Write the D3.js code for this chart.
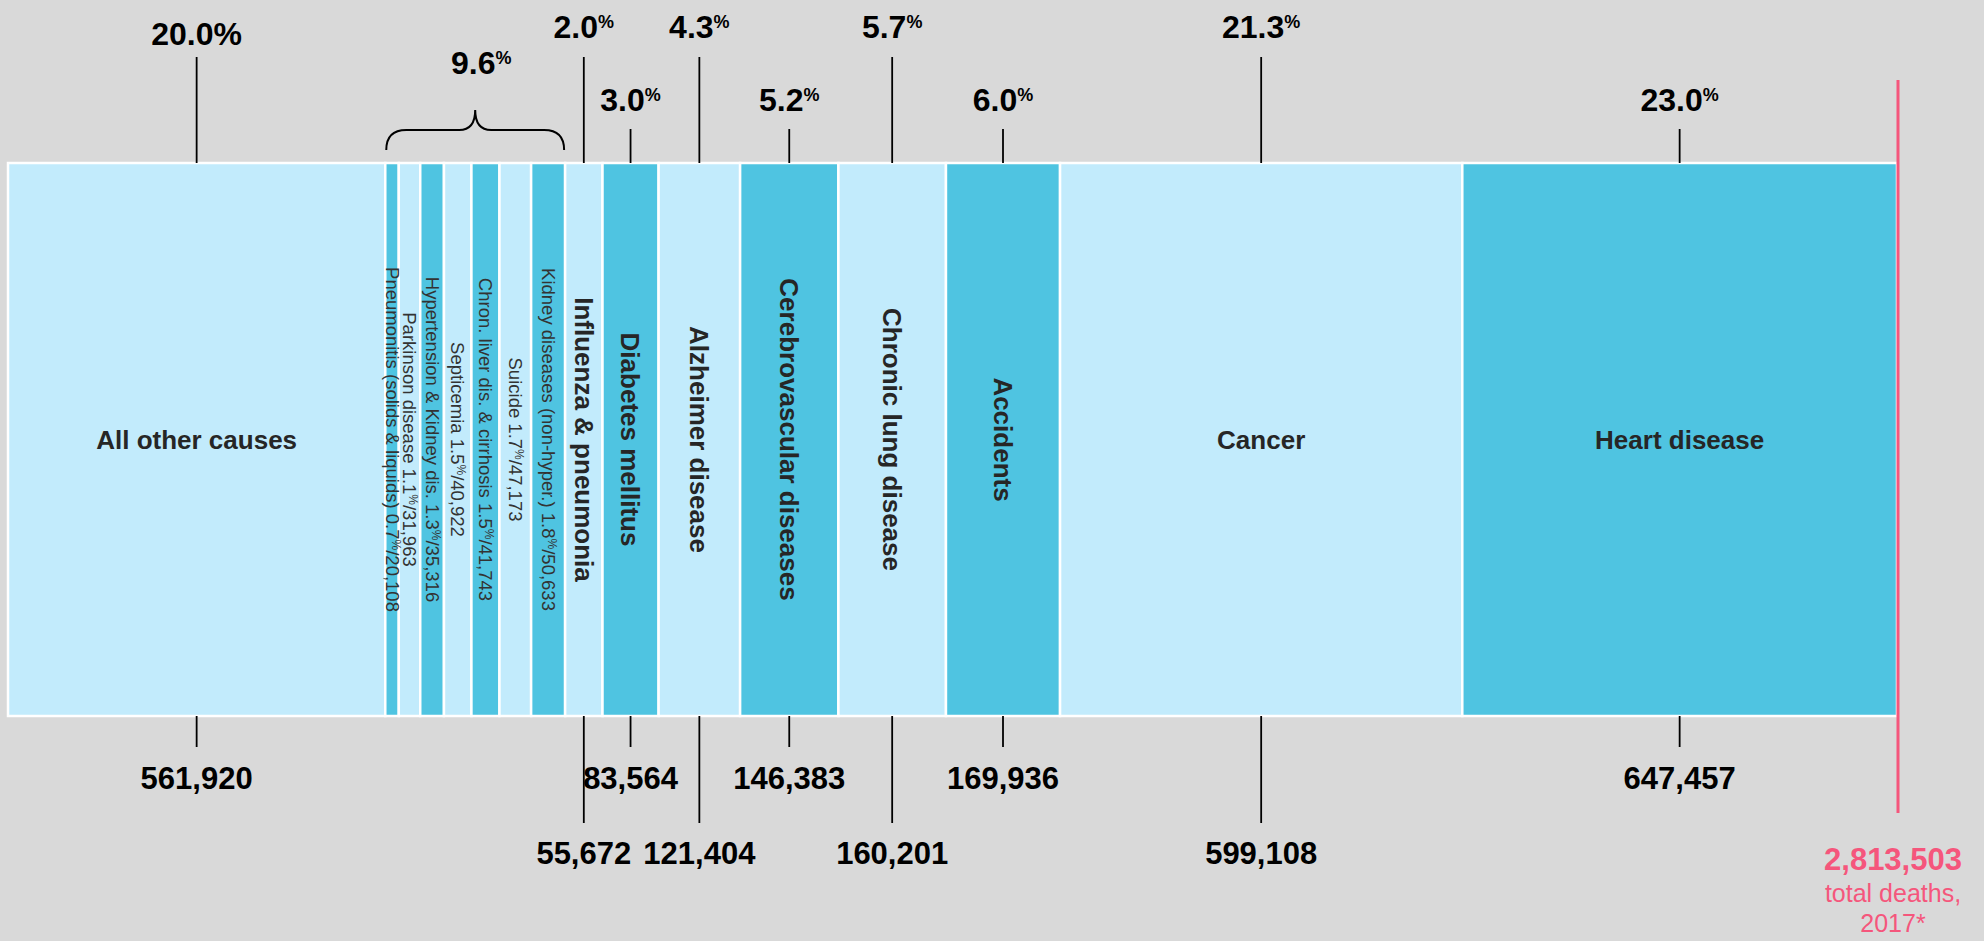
<!DOCTYPE html>
<html>
<head>
<meta charset="utf-8">
<script src="https://cdn.jsdelivr.net/npm/d3@7/dist/d3.min.js"></script>
<style>
  html, body { margin: 0; padding: 0; background: #d9d9d9; }
  svg { display: block; font-family: "Liberation Sans", Arial, Helvetica, sans-serif; }
</style>
</head>
<body>
<svg id="chart" width="1984" height="941"></svg>
<script>
// Causes of death, US 2017, in the order they run along the bar
const causes = [
  "All other causes",
  "Pneumonitis (solids & liquids)",
  "Parkinson disease",
  "Hypertension & Kidney dis.",
  "Septicemia",
  "Chron. liver dis. & cirrhosis",
  "Suicide",
  "Kidney diseases (non-hyper.)",
  "Influenza & pneumonia",
  "Diabetes mellitus",
  "Alzheimer disease",
  "Cerebrovascular diseases",
  "Chronic lung disease",
  "Accidents",
  "Cancer",
  "Heart disease"
];
const deaths = [
  561920, 20108, 31963, 35316, 40922, 41743, 47173, 50633,
  55672, 83564, 121404, 146383, 160201, 169936, 599108, 647457
];
const shares = [
  "20.0", "0.7", "1.1", "1.3", "1.5", "1.5", "1.7", "1.8",
  "2.0", "3.0", "4.3", "5.2", "5.7", "6.0", "21.3", "23.0"
];
// Smaller causes gathered under one bracket
const groupedCauses = [
  "Pneumonitis (solids & liquids)",
  "Parkinson disease",
  "Hypertension & Kidney dis.",
  "Septicemia",
  "Chron. liver dis. & cirrhosis",
  "Suicide",
  "Kidney diseases (non-hyper.)"
];
const groupShare = "9.6";
const totalLabel = ["total deaths,", "2017*"];

(function () {
  const total = d3.sum(deaths);
  const fmt = d3.format(",");

  const svg = d3.select("#chart");
  const barTop = 163, barBottom = 716, barMid = (barTop + barBottom) / 2;
  const x = d3.scaleLinear().domain([0, total]).range([8, 1897]);

  const ends = d3.cumsum(deaths);
  const segs = causes.map((name, i) => ({
    name, value: deaths[i], share: shares[i], i,
    start: ends[i] - deaths[i], end: ends[i],
    grouped: groupedCauses.includes(name)
  }));
  segs.forEach(s => { s.cx = x((s.start + s.end) / 2); s.w = x(s.end) - x(s.start); });

  const light = "#c2ebfc", dark = "#4fc4e1", ink = "#262626", pink = "#f5567c";

  // bar segments
  svg.append("g").selectAll("rect").data(segs).join("rect")
    .attr("x", d => x(d.start))
    .attr("y", barTop)
    .attr("width", d => x(d.end) - x(d.start))
    .attr("height", barBottom - barTop)
    .attr("fill", d => d.i % 2 === 0 ? light : dark)
    .attr("stroke", "#fff")
    .attr("stroke-width", 2.5);

  // labels inside the segments
  const inner = svg.append("g").attr("fill", ink);
  segs.forEach(s => {
    if (s.grouped) {
      const t = inner.append("text")
        .attr("transform", `translate(${s.cx},${barMid}) rotate(90)`)
        .attr("text-anchor", "middle").attr("dy", "0.35em")
        .attr("font-size", 18.5).attr("fill", "#333");
      t.append("tspan").text(`${s.name} ${s.share}`);
      t.append("tspan").attr("font-size", 12).attr("dy", -6).text("%");
      t.append("tspan").attr("dy", 6).text("/" + fmt(s.value));
    } else if (s.w > 200) {
      inner.append("text")
        .attr("x", s.cx).attr("y", barMid).attr("dy", "0.35em")
        .attr("text-anchor", "middle").attr("font-size", 26).attr("font-weight", "bold")
        .text(s.name);
    } else {
      inner.append("text")
        .attr("transform", `translate(${s.cx},${barMid}) rotate(90)`)
        .attr("text-anchor", "middle").attr("dy", "0.35em")
        .attr("font-size", 26).attr("font-weight", "bold")
        .text(s.name);
    }
  });

  // leader lines and value labels for the main causes
  const majors = segs.filter(s => !s.grouped);
  const upper = svg.append("g"), lower = svg.append("g");
  majors.forEach((s, j) => {
    const high = j === 0 || j % 2 === 1;
    upper.append("line")
      .attr("x1", s.cx).attr("x2", s.cx)
      .attr("y1", high ? 57 : 129).attr("y2", barTop)
      .attr("stroke", "#000").attr("stroke-width", 1.8);
    const t = upper.append("text")
      .attr("x", s.cx).attr("y", high ? (j === 0 ? 45 : 38) : 111)
      .attr("text-anchor", "middle").attr("font-size", 32).attr("font-weight", "bold");
    if (j === 0) {
      t.text(s.share + "%");
    } else {
      t.append("tspan").text(s.share);
      t.append("tspan").attr("font-size", 18).attr("dy", -10).text("%");
    }

    const long = j % 2 === 1;
    lower.append("line")
      .attr("x1", s.cx).attr("x2", s.cx)
      .attr("y1", barBottom).attr("y2", long ? 823 : 747)
      .attr("stroke", "#000").attr("stroke-width", 1.8);
    lower.append("text")
      .attr("x", s.cx).attr("y", long ? 864 : 789)
      .attr("text-anchor", "middle").attr("font-size", 31).attr("font-weight", "bold")
      .text(fmt(s.value));
  });

  // bracket over the grouped causes
  const grp = segs.filter(s => s.grouped);
  const gx0 = x(grp[0].start) + 1, gx1 = x(grp[grp.length - 1].end) - 1;
  const gc = (gx0 + gx1) / 2, r = 20;
  svg.append("path")
    .attr("d", `M${gx0},150 Q${gx0},130 ${gx0 + r},130 L${gc - 16},130 C${gc - 4},130 ${gc},122 ${gc},110`
             + ` C${gc},122 ${gc + 4},130 ${gc + 16},130 L${gx1 - r},130 Q${gx1},130 ${gx1},150`)
    .attr("fill", "none").attr("stroke", "#000").attr("stroke-width", 2);
  const gt = svg.append("text")
    .attr("x", gc + 6).attr("y", 74)
    .attr("text-anchor", "middle").attr("font-size", 32).attr("font-weight", "bold");
  gt.append("tspan").text(groupShare);
  gt.append("tspan").attr("font-size", 18).attr("dy", -10).text("%");

  // total marker
  const xt = x(total) + 1;
  svg.append("line")
    .attr("x1", xt).attr("x2", xt).attr("y1", 80).attr("y2", 813)
    .attr("stroke", pink).attr("stroke-width", 3);
  const tg = svg.append("g").attr("fill", pink).attr("text-anchor", "middle");
  tg.append("text").attr("x", 1893).attr("y", 870)
    .attr("font-size", 31).attr("font-weight", "bold").text(fmt(total));
  tg.append("text").attr("x", 1893).attr("y", 902).attr("font-size", 25).text(totalLabel[0]);
  tg.append("text").attr("x", 1893).attr("y", 932).attr("font-size", 25).text(totalLabel[1]);
})();
</script>
</body>
</html>
